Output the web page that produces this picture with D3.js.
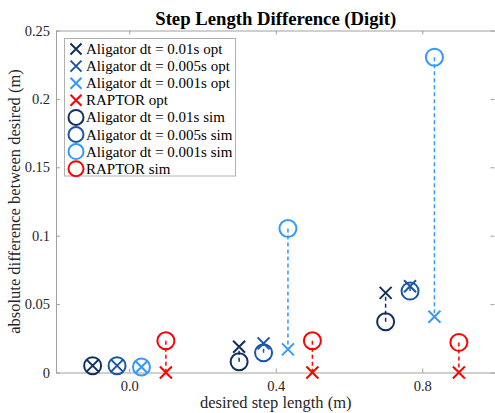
<!DOCTYPE html>
<html><head><meta charset="utf-8">
<script src="https://cdn.jsdelivr.net/npm/d3@7"></script>
<style>body{margin:0;background:#fff}svg{display:block}text{font-family:"Liberation Serif","Times New Roman",serif}</style>
</head><body><svg id="c" width="495" height="413"></svg>
<script>
const desired = [0.0, 0.4, 0.8];
const xTicks = [0.0, 0.4, 0.8];
const xTickLabels = ["0.0", "0.4", "0.8"];
const yTicks = [0, 0.05, 0.1, 0.15, 0.2, 0.25];
const yTickLabels = ["0", "0.05", "0.1", "0.15", "0.2", "0.25"];
const seriesNames = ["Aligator dt = 0.01s", "Aligator dt = 0.005s", "Aligator dt = 0.001s", "RAPTOR"];
const seriesColors = ["#10305f", "#1a56a8", "#3399ff", "#ff0000"];
const seriesOffsets = [-0.1, -0.0333, 0.0333, 0.1];
const optValues = [
  [0.005, 0.0188, 0.0582],
  [0.005, 0.0213, 0.0631],
  [0.004, 0.0169, 0.0407],
  [0.0, 0.0, 0.0]
];
const simValues = [
  [0.005, 0.0079, 0.0371],
  [0.005, 0.0145, 0.0595],
  [0.004, 0.1053, 0.2305],
  [0.0232, 0.0232, 0.0220]
];

const svg = d3.select("#c");
const L = 56, R = 495.5, T = 30.5, B = 372.5;
const x = d3.scaleLinear().domain([-0.2, 1.0]).range([L, R]);
const y = d3.scaleLinear().domain([0, 0.25]).range([B, T]);
const axisCol = "#a0a0a0";

// axes
const gx = svg.append("g").attr("transform", `translate(0,${B})`)
  .call(d3.axisBottom(x).tickValues(xTicks).tickFormat((d,i)=>xTickLabels[i]).tickSizeInner(-4).tickSizeOuter(0).tickPadding(8));
const gxt = svg.append("g").attr("transform", `translate(0,${T})`)
  .call(d3.axisTop(x).tickValues(xTicks).tickFormat("").tickSizeInner(-4).tickSizeOuter(0));
const gy = svg.append("g").attr("transform", `translate(${L},0)`)
  .call(d3.axisLeft(y).tickValues(yTicks).tickFormat((d,i)=>yTickLabels[i]).tickSizeInner(-4).tickSizeOuter(0).tickPadding(6));
const gyr = svg.append("g").attr("transform", `translate(${R-1},0)`)
  .call(d3.axisRight(y).tickValues(yTicks).tickFormat("").tickSizeInner(-4).tickSizeOuter(0));
[gx, gxt, gy, gyr].forEach(g => {
  g.select(".domain").attr("stroke", axisCol);
  g.selectAll(".tick line").attr("stroke", axisCol);
  g.selectAll("text").attr("fill", "#262626").style("font-size", "14.5px").style("font-family", "Liberation Serif, serif");
});
gyr.select(".domain").remove();

// title & labels
svg.append("text").attr("x", (L+R)/2).attr("y", 25).attr("text-anchor", "middle")
  .style("font-size", "18.7px").style("font-weight", "bold").attr("fill", "#000").text("Step Length Difference (Digit)");
svg.append("text").attr("x", (L+R)/2).attr("y", 408).attr("text-anchor", "middle")
  .style("font-size", "16.5px").attr("fill", "#262626").text("desired step length (m)");
svg.append("text").attr("transform", `translate(20,${(T+B)/2}) rotate(-90)`).attr("text-anchor", "middle")
  .style("font-size", "16.5px").attr("fill", "#262626").text("absolute difference between desired (m)");

const xs = 6, cr = 8.5;
function drawX(g, cx, cy, col, s) {
  g.append("path").attr("d", `M${cx-s},${cy-s}L${cx+s},${cy+s}M${cx-s},${cy+s}L${cx+s},${cy-s}`)
    .attr("stroke", col).attr("stroke-width", 2).attr("fill", "none");
}
function drawO(g, cx, cy, col, r) {
  g.append("circle").attr("cx", cx).attr("cy", cy).attr("r", r).attr("stroke", col).attr("stroke-width", 2).attr("fill", "none");
}

const marks = svg.append("g");
// dashed connectors
seriesNames.forEach((n, si) => {
  desired.forEach((d, di) => {
    const px = x(d + seriesOffsets[si]);
    marks.append("line").attr("x1", px).attr("x2", px)
      .attr("y1", y(simValues[si][di])).attr("y2", y(optValues[si][di]))
      .attr("stroke", seriesColors[si]).attr("stroke-width", 1.5).attr("stroke-dasharray", "4,3");
  });
});
// opt markers
seriesNames.forEach((n, si) => {
  desired.forEach((d, di) => drawX(marks, x(d + seriesOffsets[si]), y(optValues[si][di]), seriesColors[si], xs));
});
// sim markers
seriesNames.forEach((n, si) => {
  desired.forEach((d, di) => drawO(marks, x(d + seriesOffsets[si]), y(simValues[si][di]), seriesColors[si], cr));
});

// legend
const lg = svg.append("g");
lg.append("rect").attr("x", 64.5).attr("y", 38.5).attr("width", 171).attr("height", 137.5)
  .attr("fill", "#fff").attr("stroke", "#b0b0b0").attr("stroke-width", 1);
const entries = [];
seriesNames.forEach((n, i) => entries.push({label: n + " opt", col: seriesColors[i], type: "x"}));
seriesNames.forEach((n, i) => entries.push({label: n + " sim", col: seriesColors[i], type: "o"}));
entries.forEach((e, i) => {
  const cy = 49 + i * 17.1;
  if (e.type === "x") drawX(lg, 76, cy, e.col, 5.5); else drawO(lg, 76, cy, e.col, 7.5);
  lg.append("text").attr("x", 86).attr("y", cy + 5).style("font-size", "15px").attr("fill", "#000").text(e.label);
});
</script></body></html>
